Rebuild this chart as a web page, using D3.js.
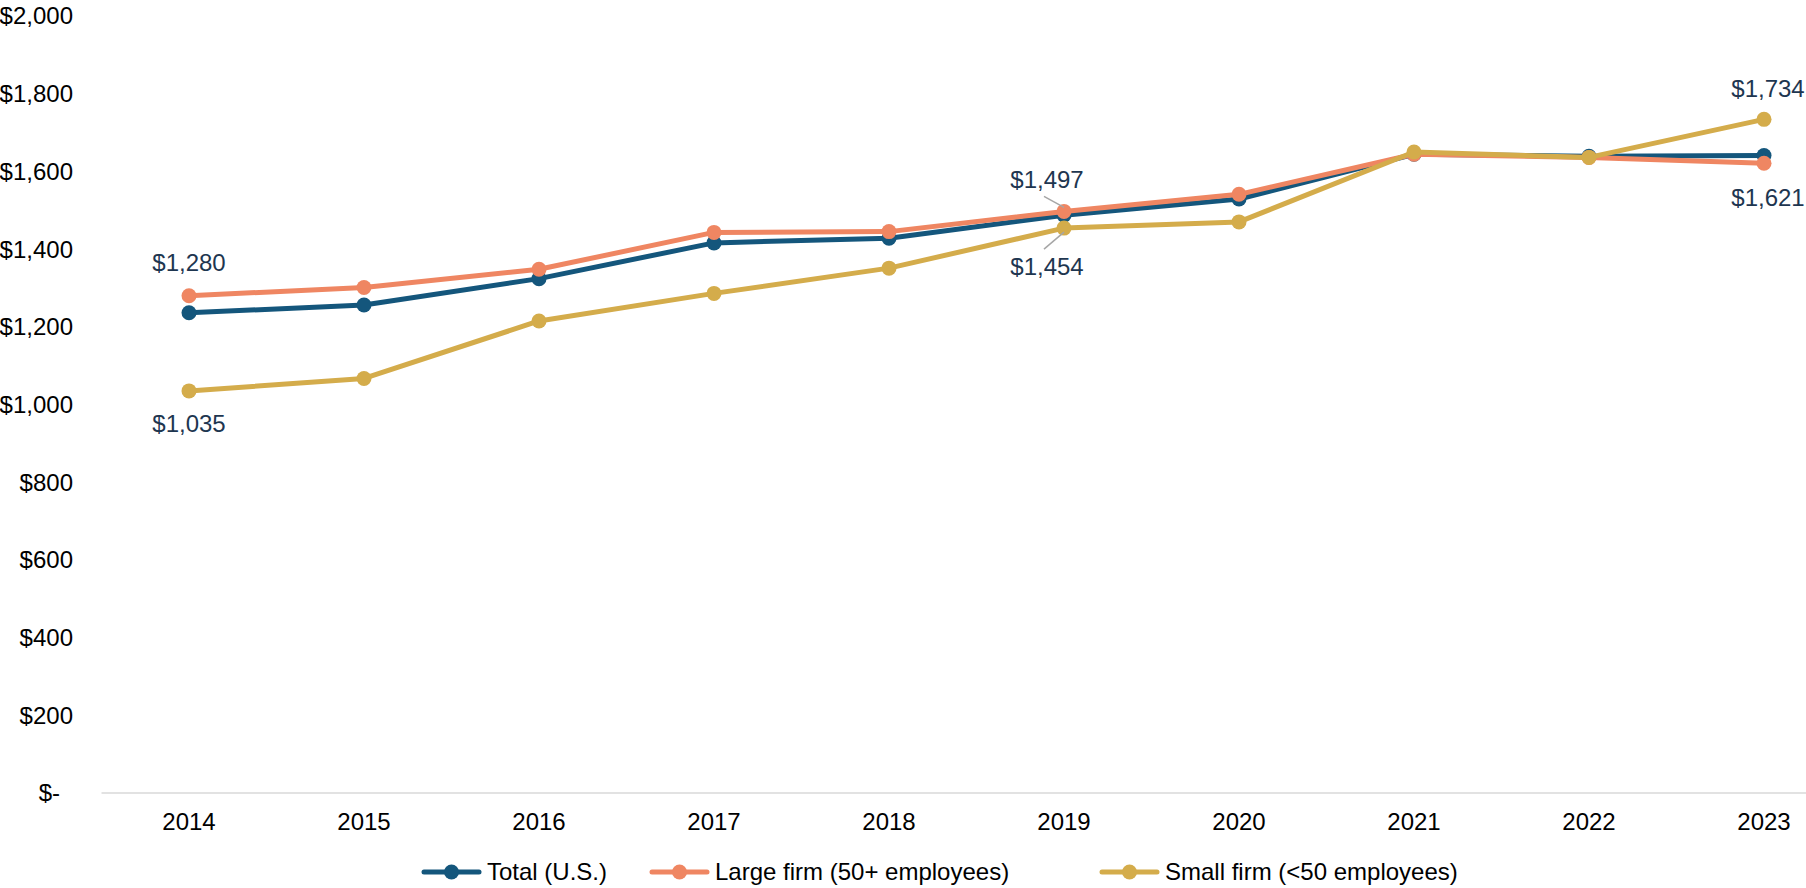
<!DOCTYPE html>
<html>
<head>
<meta charset="utf-8">
<script src="https://cdn.jsdelivr.net/npm/d3@7"></script>
<style>
  body { margin: 0; background: #fff; }
  svg { display: block; font-family: Arial, "Liberation Sans", sans-serif; }
</style>
</head>
<body>
<script>
// data
var years = ['2014', '2015', '2016', '2017', '2018', '2019', '2020', '2021', '2022', '2023'];
var totalUS = [1236, 1256, 1324, 1416, 1428, 1487, 1529, 1644, 1639, 1641];
var largeFirm = [1280, 1301, 1348, 1443, 1445, 1497, 1541, 1644, 1636, 1621];
var smallFirm = [1035, 1067, 1215, 1286, 1351, 1454, 1470, 1650, 1636, 1734];
var yTicks = [0, 200, 400, 600, 800, 1000, 1200, 1400, 1600, 1800, 2000];
var seriesNames = ['Total (U.S.)', 'Large firm (50+ employees)', 'Small firm (<50 employees)'];
var seriesColors = ['#14567C', '#EF8662', '#D4AC4B'];

// labelled points: series index, year index, where the label goes, leader line?
var callouts = [
  {s: 1, i: 0, dy: -33, lead: false},
  {s: 2, i: 0, dy: 33, lead: false},
  {s: 1, i: 5, dy: -32, dx: -17, lead: true},
  {s: 2, i: 5, dy: 38, dx: -17, lead: true},
  {s: 2, i: 9, dy: -31, dx: 4, lead: false},
  {s: 1, i: 9, dy: 34, dx: 4, lead: false}
];

var W = 1806, H = 888;
var series = [totalUS, largeFirm, smallFirm];

var svg = d3.select('body').append('svg')
  .attr('width', W)
  .attr('height', H);

var x = d3.scaleBand().domain(years).range([101.5, 1851.5]);
var y = d3.scaleLinear().domain([0, 2000]).range([793, 16]);
var cx = function(i) { return x(years[i]) + x.bandwidth() / 2; };

var fmt = d3.format(',');
var money = function(v) { return v === 0 ? '$-' : '$' + fmt(v); };

// y tick labels (no gridlines in the original)
svg.append('g').selectAll('text')
  .data(yTicks)
  .join('text')
  .attr('x', function(d) { return d === 0 ? 60 : 73; })
  .attr('y', function(d) { return y(d); })
  .attr('dy', '0.35em')
  .attr('text-anchor', 'end')
  .attr('font-size', 24)
  .attr('fill', '#000')
  .text(money);

// x axis baseline
svg.append('line')
  .attr('x1', x.range()[0]).attr('x2', W)
  .attr('y1', y(0)).attr('y2', y(0))
  .attr('stroke', '#D9D9D9')
  .attr('stroke-width', 1.5);

svg.append('g').selectAll('text')
  .data(years)
  .join('text')
  .attr('x', function(d, i) { return cx(i); })
  .attr('y', 822)
  .attr('dy', '0.35em')
  .attr('text-anchor', 'middle')
  .attr('font-size', 24)
  .attr('fill', '#000')
  .text(function(d) { return d; });

// lines + markers
var line = d3.line()
  .x(function(d, i) { return cx(i); })
  .y(function(d) { return y(d); });

series.forEach(function(vals, s) {
  var g = svg.append('g').attr('class', 'series-' + s);
  g.append('path')
    .attr('d', line(vals))
    .attr('fill', 'none')
    .attr('stroke', seriesColors[s])
    .attr('stroke-width', 5)
    .attr('stroke-linejoin', 'round');
  g.selectAll('circle')
    .data(vals)
    .join('circle')
    .attr('cx', function(d, i) { return cx(i); })
    .attr('cy', function(d) { return y(d); })
    .attr('r', 7.5)
    .attr('fill', seriesColors[s]);
});

// data labels
callouts.forEach(function(c) {
  var v = series[c.s][c.i];
  var px = cx(c.i), py = y(v);
  var lx = px + (c.dx || 0), ly = py + c.dy;
  if (c.lead) {
    var dir = c.dy < 0 ? 1 : -1;
    svg.append('line')
      .attr('x1', lx - 3).attr('y1', ly + dir * 17)
      .attr('x2', px).attr('y2', py - dir * 4)
      .attr('stroke', '#A6A6A6')
      .attr('stroke-width', 1.5);
  }
  svg.append('text')
    .attr('x', lx)
    .attr('y', ly)
    .attr('dy', '0.35em')
    .attr('text-anchor', 'middle')
    .attr('font-size', 24)
    .attr('fill', '#1E3650')
    .text(money(v));
});

// legend
var legendX = [424, 652, 1102];
var leg = svg.append('g').attr('class', 'legend');
seriesNames.forEach(function(name, s) {
  var lg = leg.append('g').attr('transform', 'translate(' + legendX[s] + ',872)');
  lg.append('line')
    .attr('x1', 0).attr('x2', 55)
    .attr('stroke', seriesColors[s])
    .attr('stroke-width', 5)
    .attr('stroke-linecap', 'round');
  lg.append('circle')
    .attr('cx', 27.5)
    .attr('r', 7.5)
    .attr('fill', seriesColors[s]);
  lg.append('text')
    .attr('x', 63)
    .attr('dy', '0.35em')
    .attr('font-size', 24)
    .attr('fill', '#000')
    .text(name);
});
</script>
</body>
</html>
